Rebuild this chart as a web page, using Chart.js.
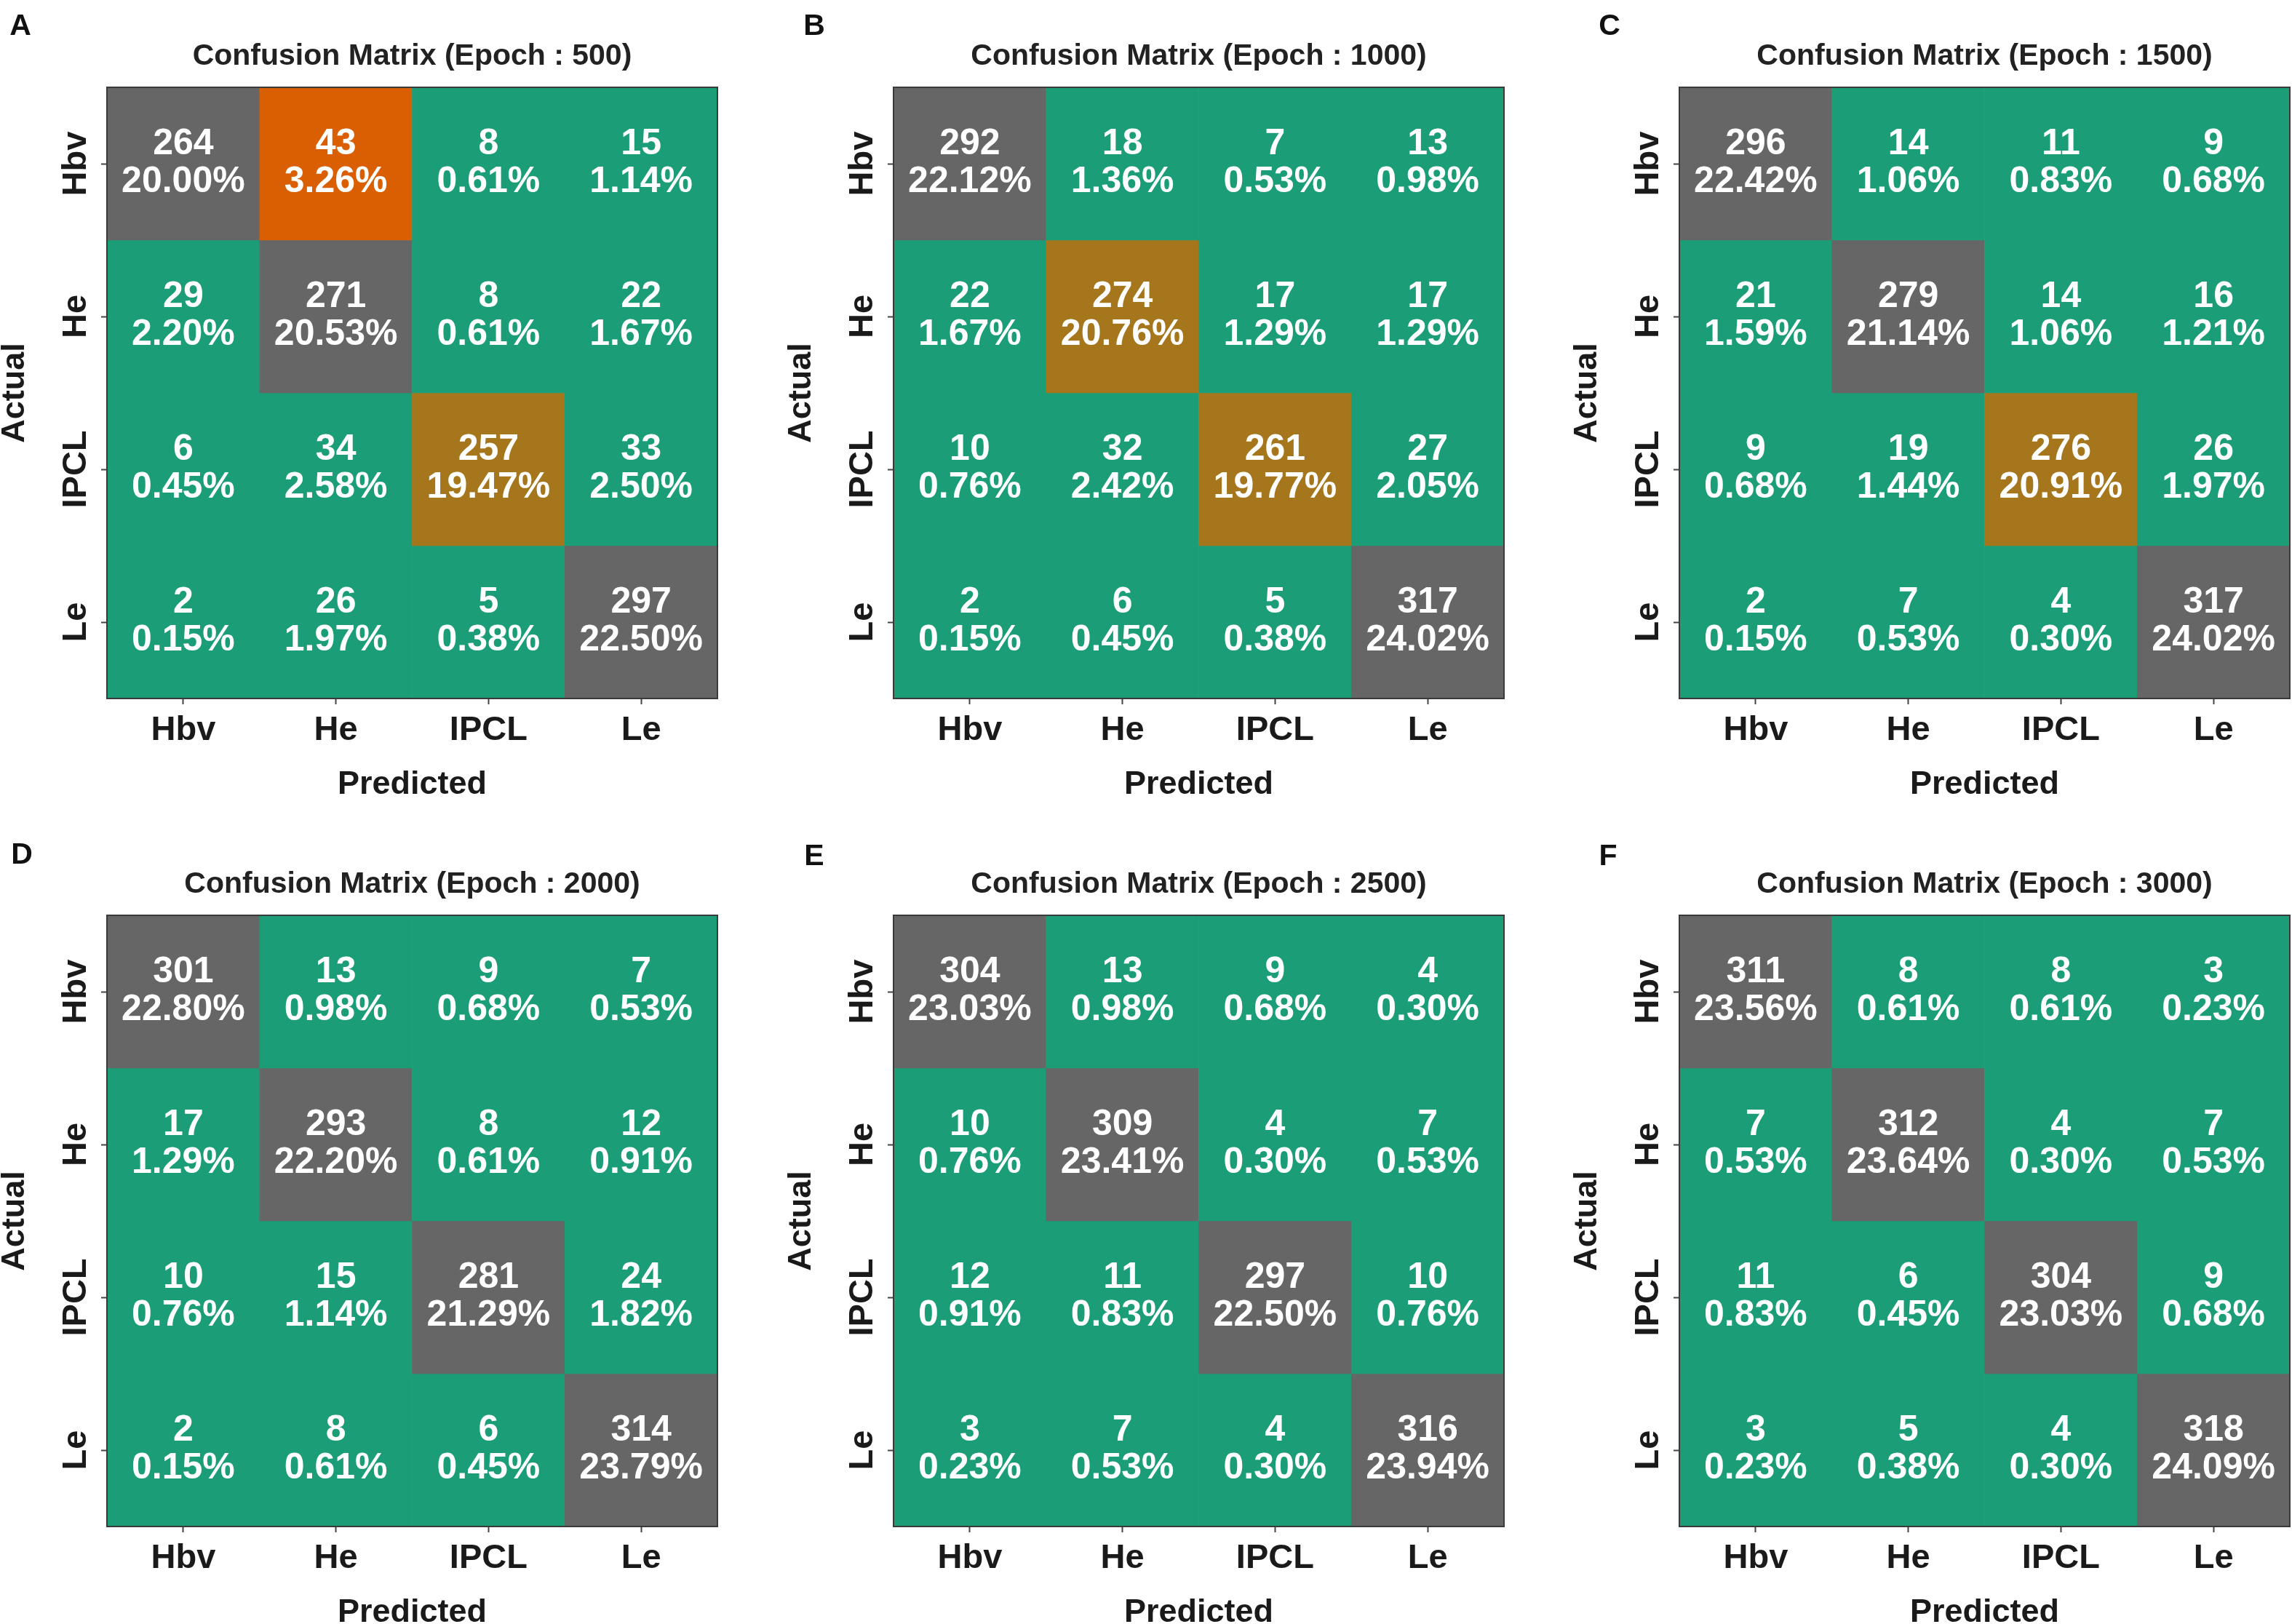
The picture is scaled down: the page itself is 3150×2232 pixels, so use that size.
<!DOCTYPE html>
<html>
<head>
<meta charset="utf-8">
<script src="https://cdn.jsdelivr.net/npm/chart.js@4"></script>
<style>
  body { margin: 0; background: #fff; }
  #page { position: relative; width: 3150px; height: 2232px; overflow: hidden; background: #fff; }
  .panel { position: absolute; width: 990px; height: 1138px; }
  .letter { position: absolute; font: bold 41px "Liberation Sans", Arial, sans-serif; color: #111;
            transform: translate(-50%, -50%); line-height: 1; }
</style>
</head>
<body>
<div id="page"></div>
<script>
// class names, shared by both axes
const classes = ['Hbv', 'He', 'IPCL', 'Le'];
const epochs = [500, 1000, 1500, 2000, 2500, 3000];
const panelLetters = ['A', 'B', 'C', 'D', 'E', 'F'];

// rows = actual, columns = predicted
const cm500  = [[264, 43, 8, 15], [29, 271, 8, 22], [6, 34, 257, 33], [2, 26, 5, 297]];
const cm1000 = [[292, 18, 7, 13], [22, 274, 17, 17], [10, 32, 261, 27], [2, 6, 5, 317]];
const cm1500 = [[296, 14, 11, 9], [21, 279, 14, 16], [9, 19, 276, 26], [2, 7, 4, 317]];
const cm2000 = [[301, 13, 9, 7], [17, 293, 8, 12], [10, 15, 281, 24], [2, 8, 6, 314]];
const cm2500 = [[304, 13, 9, 4], [10, 309, 4, 7], [12, 11, 297, 10], [3, 7, 4, 316]];
const cm3000 = [[311, 8, 8, 3], [7, 312, 4, 7], [11, 6, 304, 9], [3, 5, 4, 318]];
const matrices = [cm500, cm1000, cm1500, cm2000, cm2500, cm3000];

// fill tone of each cell (g green, d grey, o orange, b ochre)
const tones = [
  ['dogg', 'gdgg', 'ggbg', 'gggd'],
  ['dggg', 'gbgg', 'ggbg', 'gggd'],
  ['dggg', 'gdgg', 'ggbg', 'gggd'],
  ['dggg', 'gdgg', 'ggdg', 'gggd'],
  ['dggg', 'gdgg', 'ggdg', 'gggd'],
  ['dggg', 'gdgg', 'ggdg', 'gggd']
];
const toneColor = { g: '#1b9e77', d: '#666666', o: '#d95f02', b: '#a6761d' };

const FONT = '"Liberation Sans", Arial, sans-serif';
const colLeft = [0, 1081, 2161];
const rowTop = [0, 1138];
const letterPos = [[28, 34], [1119, 34], [2212, 34], [30, 1173], [1119, 1175], [2210, 1175]];

function cellPlugin(matrix) {
  const total = matrix.flat().reduce((a, b) => a + b, 0);
  return {
    id: 'cellText',
    afterDatasetsDraw(chart) {
      const ctx = chart.ctx;
      ctx.save();
      ctx.fillStyle = '#ffffff';
      ctx.textAlign = 'center';
      ctx.textBaseline = 'middle';
      ctx.font = 'bold 50px ' + FONT;
      chart.data.datasets.forEach((ds, i) => {
        chart.getDatasetMeta(i).data.forEach((bar, j) => {
          const v = matrix[i][j];
          const cy = (bar.y + bar.base) / 2;
          ctx.fillText(String(v), bar.x, cy - 27);
          ctx.fillText((v / total * 100).toFixed(2) + '%', bar.x, cy + 25);
        });
      });
      // frame
      const a = chart.chartArea;
      ctx.strokeStyle = '#3a3a3a';
      ctx.lineWidth = 2;
      ctx.strokeRect(a.left, a.top, a.right - a.left, a.bottom - a.top);
      ctx.restore();
    }
  };
}

const page = document.getElementById('page');

matrices.forEach((matrix, p) => {
  const box = document.createElement('div');
  box.className = 'panel';
  box.style.left = colLeft[p % 3] + 'px';
  box.style.top = rowTop[Math.floor(p / 3)] + 'px';
  const canvas = document.createElement('canvas');
  box.appendChild(canvas);
  page.appendChild(box);

  const letter = document.createElement('div');
  letter.className = 'letter';
  letter.textContent = panelLetters[p];
  letter.style.left = letterPos[p][0] + 'px';
  letter.style.top = letterPos[p][1] + 'px';
  page.appendChild(letter);

  const datasets = matrix.map((row, i) => ({
    label: classes[i],
    data: row.map(() => [i - 0.5, i + 0.5]),
    backgroundColor: tones[p][i].split('').map(t => toneColor[t]),
    borderWidth: 0,
    barPercentage: 1,
    categoryPercentage: 1,
    grouped: false
  }));

  new Chart(canvas, {
    type: 'bar',
    data: { labels: classes, datasets },
    options: {
      responsive: true,
      maintainAspectRatio: false,
      devicePixelRatio: 1,
      animation: false,
      layout: { padding: { right: 4 } },
      plugins: {
        legend: { display: false },
        tooltip: { enabled: false },
        title: {
          display: true,
          fullSize: false,
          text: 'Confusion Matrix (Epoch : ' + epochs[p] + ')',
          color: '#222',
          font: { family: FONT, size: 41, weight: 'bold', lineHeight: 1.2 },
          padding: { top: 53, bottom: 17.8 }
        }
      },
      scales: {
        x: {
          type: 'category',
          offset: true,
          afterFit: s => { s.height = 178; },
          grid: { offset: false, drawOnChartArea: false, drawTicks: true, tickLength: 8,
                  tickWidth: 2, tickColor: '#444' },
          border: { display: false },
          ticks: { color: '#1a1a1a', padding: 8, font: { family: FONT, size: 47, weight: 'bold' } },
          title: { display: true, text: 'Predicted', color: '#1a1a1a',
                   font: { family: FONT, size: 45, weight: 'bold', lineHeight: 1.2 },
                   padding: { top: 0, bottom: 32 } }
        },
        y: {
          type: 'linear',
          min: -0.5,
          max: 3.5,
          reverse: true,
          afterFit: s => { s.width = 147; },
          afterBuildTicks: s => { s.ticks = classes.map((c, i) => ({ value: i })); },
          grid: { drawOnChartArea: false, drawTicks: true, tickLength: 8,
                  tickWidth: 2, tickColor: '#444' },
          border: { display: false },
          ticks: {
            color: '#1a1a1a',
            minRotation: 90,
            maxRotation: 90,
            crossAlign: 'center',
            padding: -20,
            font: { family: FONT, size: 47, weight: 'bold' },
            callback: v => classes[v]
          },
          title: { display: true, text: 'Actual', color: '#1a1a1a',
                   font: { family: FONT, size: 45, weight: 'bold', lineHeight: 0.8 },
                   padding: { top: 3, bottom: 0 } }
        }
      }
    },
    plugins: [cellPlugin(matrix)]
  });
});
</script>
</body>
</html>
